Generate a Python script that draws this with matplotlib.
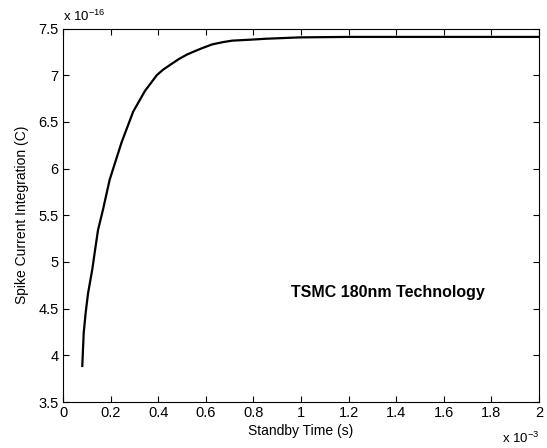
import matplotlib
matplotlib.use("Agg")
import matplotlib.pyplot as plt

plt.rcParams['font.family'] = ['Liberation Sans', 'DejaVu Sans']
plt.rcParams['mathtext.fontset'] = 'custom'
plt.rcParams['mathtext.rm'] = 'Liberation Sans'
plt.rcParams['mathtext.it'] = 'Liberation Sans'

# Standby time (x 1e-3 s) and spike current integration (x 1e-16 C)
standby_time_ms = [0.081, 0.087, 0.095, 0.105, 0.123, 0.136, 0.147, 0.168, 0.196,
                   0.246, 0.295, 0.344, 0.394, 0.421, 0.45, 0.485, 0.52, 0.547,
                   0.585, 0.627, 0.674, 0.711, 0.786, 0.851, 0.996, 1.206, 1.6, 2.0]
charge_e16 = [3.886, 4.24, 4.45, 4.66, 4.92, 5.15, 5.34, 5.56, 5.88,
              6.28, 6.61, 6.83, 7.0, 7.06, 7.11, 7.17, 7.22, 7.25,
              7.29, 7.33, 7.355, 7.37, 7.38, 7.39, 7.405, 7.41, 7.41, 7.41]

xticks = [0, 0.2, 0.4, 0.6, 0.8, 1, 1.2, 1.4, 1.6, 1.8, 2]
yticks = [3.5, 4, 4.5, 5, 5.5, 6, 6.5, 7, 7.5]

fig = plt.figure(figsize=(5.47, 4.48), dpi=100)
ax = fig.add_axes([63/547, 46/448, 476/547, 373.5/448])
ax.plot(standby_time_ms, charge_e16, color='black', linewidth=1.6)
ax.set_xlim(0, 2)
ax.set_ylim(3.5, 7.5)
ax.set_xticks(xticks)
ax.set_xticklabels([f"{t:g}" for t in xticks])
ax.set_yticks(yticks)
ax.set_yticklabels([f"{t:g}" for t in yticks])
ax.tick_params(direction='in', top=True, right=True, length=4, width=0.8,
               labelsize=10.5, colors='black', pad=3)
for s in ax.spines.values():
    s.set_linewidth(0.8)
ax.set_xlabel("Standby Time (s)", fontsize=10, labelpad=3)
ax.set_ylabel("Spike Current Integration (C)", fontsize=10, labelpad=7)

ax.text(0.0, 1.012, r"x 10$^{-16}$", transform=ax.transAxes, fontsize=9.5,
        ha='left', va='bottom')
ax.text(1.0, -0.078, r"x 10$^{-3}$", transform=ax.transAxes, fontsize=9.5,
        ha='right', va='top')

ax.text(1.366, 4.67, "TSMC 180nm Technology", fontsize=11.5, fontweight='bold',
        ha='center', va='center')

fig.savefig("out.png", dpi=100)
